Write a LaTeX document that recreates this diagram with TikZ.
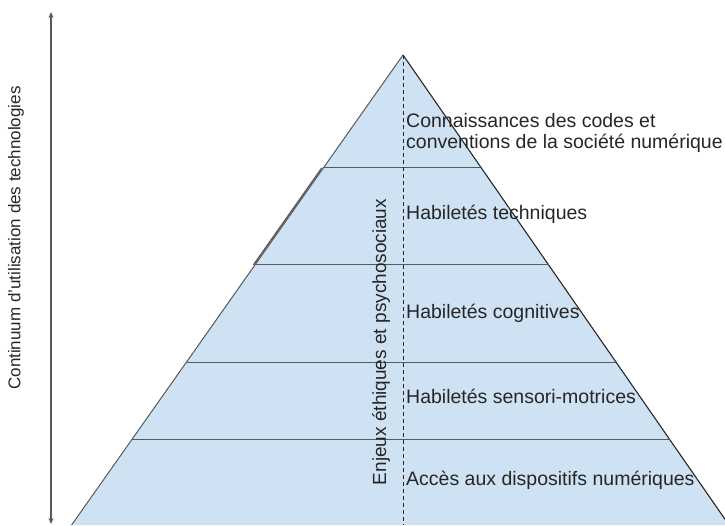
\documentclass[tikz,border=0pt]{standalone}
\usepackage{fontspec}
\setmainfont{Liberation Sans}
\usetikzlibrary{calc,arrows.meta}
\definecolor{pyrfill}{HTML}{CFE2F3}
\definecolor{pyredge}{HTML}{595959}
\definecolor{txt}{HTML}{262626}
\tikzset{
  lvl/.style={draw=pyredge, line width=1pt},
  lbl/.style={anchor=west, inner sep=0pt, text=txt, font=\fontsize{19.5}{21.5}\selectfont, align=left},
  vlbl/.style={rotate=90, inner sep=0pt, text=txt},
}
\begin{document}
\begin{tikzpicture}[x=1pt,y=-1pt]
\useasboundingbox (0,0) rectangle (725,525);
\clip (0,0) rectangle (725,525);
\coordinate (apex) at (403,55);
\coordinate (bl) at (71.6,525);
\coordinate (br) at (729,525);
% pyramid body
\fill[pyrfill] (apex) -- (bl) -- (br) -- cycle;
\draw[pyredge, line width=1pt] (apex) -- (bl);
\draw[black!85, line width=1.1pt] (apex) -- (br);
\draw[pyredge, line width=1.4pt] ($(apex)!0.2404!(bl)+(-1.5,0)$) -- ($(apex)!0.4468!(bl)+(-1.5,0)$);
% level lines
\foreach \t in {0.2404,0.4468,0.6532,0.8191}{
  \draw[lvl] ($(apex)!\t!(bl)$) -- ($(apex)!\t!(br)$);
}
% dashed axis
\coordinate (dbot) at (403,525);
\draw[txt, line width=0.9pt, dash pattern=on 4pt off 3pt] (apex) -- (dbot);
% left arrow
\coordinate (atop) at (51,12);
\coordinate (abot) at (51,524);
\draw[pyredge, line width=1.1pt, {Stealth[length=6pt,width=5pt]}-{Stealth[length=6pt,width=5pt]}] (abot) -- (atop);
% labels
\node[vlbl, font=\fontsize{17}{19}\selectfont] (cont) at (16,238) {Continuum d'utilisation des technologies};
\node[vlbl, font=\fontsize{19}{21}\selectfont] (enj) at (381,342) {Enjeux éthiques et psychosociaux};
\node[lbl] (l1) at (406,133) {Connaissances des codes et\\conventions de la société numérique};
\node[lbl] (l2) at (406,214) {Habiletés techniques};
\node[lbl] (l3) at (406,313) {Habiletés cognitives};
\node[lbl] (l4) at (406,396) {Habiletés sensori-motrices};
\node[lbl] (l5) at (406,480) {Accès aux dispositifs numériques};
\end{tikzpicture}
\end{document}
